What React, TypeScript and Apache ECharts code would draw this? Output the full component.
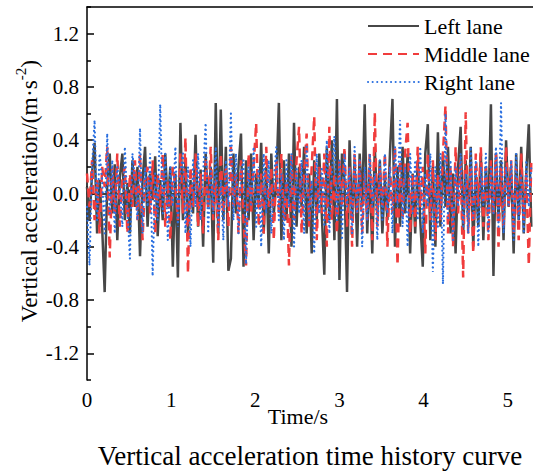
import React, { useEffect, useRef } from "react";
import * as echarts from "echarts";

const dt = 0.03;
const seriesNames = ["Left lane", "Middle lane", "Right lane"];
const yMajorTicks = [-1.2, -0.8, -0.4, 0.0, 0.4, 0.8, 1.2];
const yMinorTicks = [-1.4, -1.0, -0.6, -0.2, 0.2, 0.6, 1.0, 1.4];
const xMajorTicks = [0, 1, 2, 3, 4, 5];
const xMinorTicks = [0.5, 1.5, 2.5, 3.5, 4.5];

const leftLane = [
  0.05, -0.2, 0.15, 0.38, -0.3, 0.1, -0.25, -0.74, 0.05, 0.3,
  -0.15, 0.22, -0.35, 0.12, 0.3, -0.2, 0.08, -0.3, 0.25, -0.1,
  0.2, -0.47, 0.1, 0.35, -0.25, 0.15, -0.05, 0.28, -0.32, 0.1,
  -0.2, 0.3, -0.1, 0.2, -0.55, 0.15, -0.63, 0.53, -0.2, 0.25,
  -0.3, 0.1, -0.15, 0.44, -0.25, 0.18, -0.4, 0.3, -0.1, 0.2,
  -0.52, 0.68, -0.3, 0.63, -0.2, 0.35, -0.58, -0.49, 0.3, -0.15,
  0.2, 0.45, -0.55, 0.25, -0.2, 0.3, -0.35, 0.15, -0.1, 0.38,
  -0.3, 0.2, -0.45, 0.3, -0.15, 0.1, 0.68, -0.35, 0.25, -0.2,
  0.3, -0.4, 0.53, -0.25, 0.2, -0.1, 0.35, -0.3, 0.15, -0.45,
  0.25, -0.2, 0.3, -0.15, -0.61, 0.35, -0.2, 0.4, -0.35, 0.71,
  -0.65, 0.3, 0.1, -0.74, 0.4, -0.2, 0.25, -0.4, 0.3, -0.1,
  0.67, -0.3, 0.2, -0.45, 0.35, -0.15, 0.25, -0.3, 0.1, -0.2,
  0.3, 0.71, -0.4, 0.2, -0.25, 0.35, -0.15, 0.3, -0.45, 0.15,
  -0.3, 0.25, -0.2, -0.55, 0.3, 0.52, -0.35, 0.2, -0.4, 0.46,
  -0.25, 0.3, -0.1, 0.35, -0.3, 0.15, -0.45, 0.2, 0.5, -0.3,
  0.25, -0.2, 0.35, -0.4, 0.15, -0.25, 0.3, -0.35, 0.2, -0.15,
  0.67, -0.62, 0.3, -0.2, 0.25, -0.35, 0.4, -0.1, 0.2, -0.45,
  0.3, -0.2, 0.35, -0.3, 0.15, 0.52, -0.25,
];

const middleLane = [
  0.15, -0.1, 0.25, -0.2, 0.1, -0.3, 0.2, 0.05, 0.35, -0.48,
  0.2, -0.15, 0.3, -0.25, 0.1, 0.2, -0.3, 0.15, -0.1, 0.25,
  -0.2, 0.3, -0.35, 0.1, 0.2, -0.15, 0.25, -0.3, 0.15, -0.1,
  0.3, -0.25, 0.1, -0.35, 0.2, 0.05, -0.2, 0.3, -0.15, 0.42,
  -0.6, 0.2, -0.1, 0.3, -0.25, 0.15, -0.3, 0.25, -0.1, 0.35,
  -0.2, 0.1, -0.35, 0.3, -0.15, 0.2, -0.25, 0.35, -0.1, 0.15,
  -0.3, 0.25, -0.2, -0.54, 0.3, -0.15, 0.2, 0.53, -0.25, 0.15,
  -0.3, 0.35, -0.1, 0.2, -0.35, 0.25, -0.15, 0.3, -0.2, 0.1,
  -0.54, 0.3, -0.2, 0.25, 0.5, -0.3, 0.15, 0.45, -0.25, 0.2,
  0.58, -0.35, 0.2, -0.15, 0.3, -0.4, 0.5, -0.2, 0.15, -0.3,
  0.25, -0.1, 0.35, -0.25, 0.2, -0.4, 0.3, -0.15, 0.25, -0.3,
  0.15, -0.2, 0.3, -0.35, 0.61, -0.25, 0.2, -0.1, 0.3, -0.4,
  0.2, -0.15, 0.35, -0.54, 0.25, -0.2, 0.3, 0.53, -0.3, 0.15,
  -0.25, 0.35, -0.1, 0.2, -0.45, 0.3, -0.2, 0.25, -0.35, 0.15,
  -0.2, 0.3, 0.66, -0.3, 0.2, -0.4, 0.35, -0.15, 0.25, -0.63,
  0.61, -0.3, 0.2, -0.45, 0.3, -0.1, 0.35, -0.25, 0.2, -0.35,
  0.25, -0.15, 0.3, -0.4, 0.2, -0.25, 0.35, -0.1, 0.25, -0.3,
  0.2, -0.35, 0.3, -0.2, 0.15, -0.54, 0.25,
];

const rightLane = [
  -0.1, -0.54, 0.2, 0.55, -0.2, 0.3, 0.1, -0.3, 0.45, -0.15,
  0.25, -0.3, 0.2, 0.05, -0.25, 0.35, -0.1, -0.49, 0.3, 0.1,
  -0.2, 0.49, -0.3, 0.2, -0.1, 0.3, -0.62, 0.15, -0.2, 0.67,
  -0.15, 0.3, -0.35, 0.2, -0.1, 0.35, -0.25, 0.15, 0.3, -0.3,
  0.2, -0.4, 0.25, -0.1, 0.3, -0.2, 0.15, 0.53, -0.3, 0.2,
  -0.15, 0.35, -0.25, 0.1, -0.35, 0.25, -0.1, 0.6, -0.2, 0.3,
  -0.3, 0.15, 0.25, -0.53, 0.2, -0.1, 0.35, -0.25, 0.2, -0.4,
  0.3, -0.15, 0.25, -0.3, 0.1, 0.35, -0.2, 0.15, -0.35, 0.25,
  -0.1, 0.3, -0.4, 0.2, -0.15, 0.25, -0.3, 0.35, -0.2, 0.1,
  -0.45, 0.3, -0.15, 0.2, -0.25, 0.4, -0.3, 0.15, 0.43, -0.2,
  0.25, -0.35, 0.3, -0.1, 0.2, -0.3, 0.35, -0.15, 0.25, -0.4,
  0.2, -0.2, 0.3, -0.1, 0.15, -0.35, 0.25, -0.2, 0.3, -0.15,
  0.2, -0.3, 0.35, -0.1, 0.55, -0.25, 0.2, -0.4, 0.3, -0.15,
  0.25, -0.2, 0.35, -0.3, 0.15, -0.1, 0.3, -0.59, 0.2, -0.25,
  0.3, -0.68, 0.6, -0.2, 0.25, -0.35, 0.2, -0.1, 0.3, -0.25,
  0.15, -0.3, 0.35, -0.2, 0.25, -0.4, 0.2, -0.1, 0.3, -0.3,
  0.2, -0.15, 0.35, -0.25, 0.68, -0.3, 0.2, -0.1, 0.25, -0.35,
  0.3, -0.2, 0.15, -0.3, 0.25, -0.1, 0.2,
];

const FONT = "'Liberation Serif', 'Times New Roman', serif";

function toPairs(values: number[]) {
  return values.map((v, i) => [+(i * dt).toFixed(3), v]);
}

export default function App() {
  const ref = useRef<HTMLDivElement>(null);
  useEffect(() => {
    if (!ref.current) return;
    const chart = echarts.init(ref.current, null, { renderer: "svg" });
    const axisLineStyle = { color: "#000", width: 1.5 };
    const tickLine = { color: "#000", width: 1.5 };
    chart.setOption({
      animation: false,
      backgroundColor: "#fff",
      grid: { left: 87, top: 7, right: 0, bottom: 93 },
      legend: {
        orient: "vertical",
        left: 362,
        top: 10,
        itemWidth: 51,
        itemHeight: 14,
        itemGap: 6,
        itemStyle: { opacity: 0 },
        textStyle: { fontFamily: FONT, fontSize: 22, color: "#000" },
        data: seriesNames,
      },
      xAxis: [
        {
          type: "value",
          min: 0,
          max: 5.3,
          position: "bottom",
          axisLine: { lineStyle: axisLineStyle },
          axisTick: { inside: true, length: 7, customValues: xMajorTicks, lineStyle: tickLine },
          axisLabel: { customValues: xMajorTicks, fontFamily: FONT, fontSize: 21, color: "#000", margin: 9 },
          splitLine: { show: false },
        },
        {
          type: "value",
          min: 0,
          max: 5.3,
          position: "bottom",
          axisLine: { show: false },
          axisTick: { inside: true, length: 4, customValues: xMinorTicks, lineStyle: tickLine },
          axisLabel: { show: false },
          splitLine: { show: false },
        },
        {
          type: "value",
          min: 0,
          max: 5.3,
          position: "top",
          axisLine: { lineStyle: axisLineStyle },
          axisTick: { show: false },
          axisLabel: { show: false },
          splitLine: { show: false },
        },
      ],
      yAxis: [
        {
          type: "value",
          min: -1.4,
          max: 1.4,
          axisLine: { show: true, lineStyle: axisLineStyle },
          axisTick: { show: true, inside: true, length: 7, customValues: yMajorTicks, lineStyle: tickLine },
          axisLabel: {
            customValues: yMajorTicks,
            fontFamily: FONT,
            fontSize: 21,
            color: "#000",
            margin: 8,
            formatter: (v: number) => v.toFixed(1),
          },
          splitLine: { show: false },
        },
        {
          type: "value",
          min: -1.4,
          max: 1.4,
          position: "left",
          axisLine: { show: false },
          axisTick: { show: true, inside: true, length: 4, customValues: yMinorTicks, lineStyle: tickLine },
          axisLabel: { show: false },
          splitLine: { show: false },
        },
      ],
      graphic: [
        {
          type: "text",
          rotation: Math.PI / 2,
          x: 27,
          y: 191,
          style: {
            text: "{a|Vertical acceleration/(m·s}{s|-2}{a|)}",
            rich: {
              a: { fontFamily: FONT, fontSize: 23.5, fill: "#000", lineHeight: 28, verticalAlign: "bottom" },
              s: { fontFamily: FONT, fontSize: 15, fill: "#000", lineHeight: 28, verticalAlign: "top", padding: [0, 0, 7, 0] },
            },
            align: "center",
            verticalAlign: "middle",
          },
        },
        {
          type: "text",
          x: 298,
          y: 416,
          style: { text: "Time/s", fontFamily: FONT, fontSize: 22, fill: "#000", align: "center", verticalAlign: "middle" },
        },
        {
          type: "text",
          x: 310,
          y: 456,
          style: {
            text: "Vertical acceleration time history curve",
            fontFamily: FONT,
            fontSize: 27,
            fill: "#000",
            align: "center",
            verticalAlign: "middle",
          },
        },
      ],
      series: [
        {
          name: "Left lane",
          type: "line",
          data: toPairs(leftLane),
          symbol: "none",
          lineStyle: { color: "#474747", width: 2.5 },
          itemStyle: { color: "#474747" },
          z: 2,
        },
        {
          name: "Middle lane",
          type: "line",
          data: toPairs(middleLane),
          symbol: "none",
          lineStyle: { color: "#f03c3c", width: 2.5, type: [9, 6] },
          itemStyle: { color: "#f03c3c" },
          z: 3,
        },
        {
          name: "Right lane",
          type: "line",
          data: toPairs(rightLane),
          symbol: "none",
          lineStyle: { color: "#2a6fe0", width: 2.2, type: [0.1, 4.5], cap: "round" },
          itemStyle: { color: "#2a6fe0" },
          z: 4,
        },
      ],
    });
    return () => chart.dispose();
  }, []);
  return <div ref={ref} style={{ width: 533, height: 473, position: "absolute", left: 0, top: 0 }} />;
}
